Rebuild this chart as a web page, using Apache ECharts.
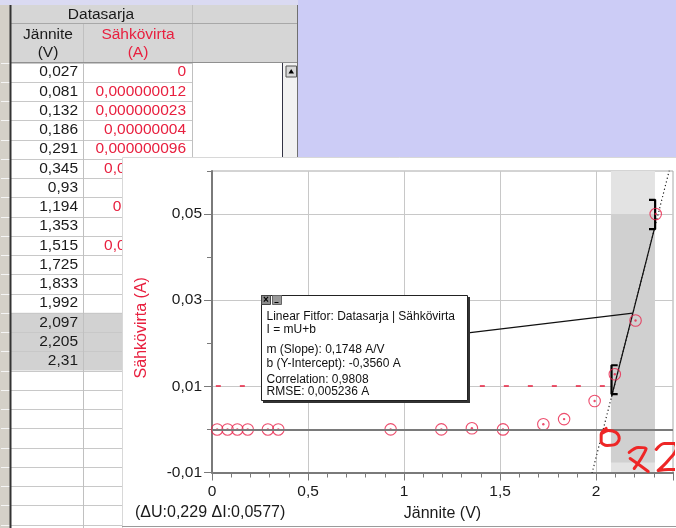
<!DOCTYPE html>
<html><head><meta charset="utf-8">
<script src="https://cdn.jsdelivr.net/npm/echarts@6/dist/echarts.min.js"></script>
<style>html,body{margin:0;padding:0;background:#fff}#c{width:676px;height:528px}</style>
</head><body><div id="c"></div>
<script>
// ---------- data ----------
const voltage = [0.027, 0.081, 0.132, 0.186, 0.291, 0.345, 0.93, 1.194, 1.353, 1.515, 1.725, 1.833, 1.992, 2.097, 2.205, 2.31];
const current = [0, 0.000000012, 0.000000023, 0.00000004, 0.000000096, 0.00000021, 0.00001, 0.0000048, 0.00027, 0.00000089, 0.0012, 0.0024, 0.0066, 0.0128, 0.0253, 0.05];
const selectedRows = [13, 14, 15];
const tableTitle = 'Datasarja';
const colHeaders = [['Jännite', '(V)'], ['Sähkövirta', '(A)']];
const fitSlope = 0.1748;
const fitIntercept = -0.3560;
const fitRange = [2.08, 2.307];
const dottedRange = [1.9, 2.5];
const selectionU = [2.077, 2.306];
const selectionI = [-0.0077, 0.05];
const xLabelValues = [0, 0.5, 1, 1.5, 2];
const yLabelValues = [-0.01, 0.01, 0.03, 0.05];
const leftBracket = [[2.112, 0.0149], [2.08, 0.0149], [2.08, 0.0082], [2.112, 0.0082]];
const rightBracket = [[2.275, 0.0533], [2.307, 0.0533], [2.307, 0.0465], [2.275, 0.0465]];
const calloutLine = [[1.333, 0.0224], [2.191, 0.0270]];
const redDash = [[0.02, 0.0101], [2.07, 0.0101]];
const scribble0 = [[2.052, 0.00023], [2.026, -0.00116], [2.026, -0.00279], [2.057, -0.00372], [2.099, -0.00349], [2.120, -0.00209], [2.104, -0.0007], [2.063, -0.00023], [2.031, -0.00093]];
const scribble7a = [[2.172, -0.00535], [2.219, -0.00419], [2.260, -0.00442], [2.234, -0.00674], [2.198, -0.00907]];
const scribble7b = [[2.177, -0.00674], [2.229, -0.00837], [2.271, -0.00977]];
const scribble2 = [[2.3125, -0.00465], [2.354, -0.00326], [2.406, -0.00326], [2.417, -0.00442], [2.375, -0.00721], [2.323, -0.00953], [2.375, -0.0093], [2.417, -0.0093]];
const fitText = ['Linear Fitfor: Datasarja | Sähkövirta', 'I = mU+b', 'm (Slope): 0,1748 A/V', 'b (Y-Intercept): -0,3560 A', 'Correlation: 0,9808', 'RMSE: 0,005236 A'];
const deltaText = '(ΔU:0,229 ΔI:0,0577)';
const xName = 'Jännite (V)';
const yName = 'Sähkövirta (A)';

// ---------- helpers ----------
const RED = '#e8203f';
const FONT = 'Liberation Sans, Arial, sans-serif';
const fmtNum = v => {
  if (v === 0) return '0';
  let s = v.toFixed(9).replace(/0+$/, '').replace(/\.$/, '');
  return s.replace('.', ',');
};
const fitAt = u => fitSlope * u + fitIntercept;
const pts = voltage.map((u, i) => [u, current[i]]);

// ---------- table (graphic) ----------
const G = [];
const ROW_TOP = 62.5, ROW_H = 19.25;
G.push({type: 'rect', z: -30, shape: {x: 298, y: 0, width: 378, height: 158}, style: {fill: '#ccccf6'}});
G.push({type: 'rect', z: -30, shape: {x: 0, y: 0, width: 298, height: 5}, style: {fill: '#dadaf2'}});
G.push({type: 'rect', z: -30, shape: {x: 0, y: 5, width: 11, height: 523}, style: {fill: '#d4d0c8'}});
G.push({type: 'rect', z: -30, shape: {x: 11, y: 5, width: 287, height: 57.5}, style: {fill: '#d6d6d6'}});
selectedRows.forEach(r => {
  G.push({type: 'rect', z: -29, shape: {x: 11, y: ROW_TOP + r * ROW_H, width: 181, height: ROW_H}, style: {fill: '#d2d2d2'}});
});
for (let i = 0; i <= 25; i++) {
  const y = Math.round(ROW_TOP + i * ROW_H) + 0.5;
  G.push({type: 'line', z: -28, shape: {x1: 11, y1: y, x2: 192, y2: y}, style: {stroke: '#c8c8c8', lineWidth: 1}});
  G.push({type: 'line', z: -28, shape: {x1: 1, y1: y, x2: 10, y2: y}, style: {stroke: '#f4f4f4', lineWidth: 1}});
}
G.push({type: 'line', z: -28, shape: {x1: 83.5, y1: 23.5, x2: 83.5, y2: 528}, style: {stroke: '#c0c0c0', lineWidth: 1}});
G.push({type: 'line', z: -28, shape: {x1: 192.5, y1: 5, x2: 192.5, y2: 528}, style: {stroke: '#c0c0c0', lineWidth: 1}});
G.push({type: 'line', z: -28, shape: {x1: 11, y1: 23.5, x2: 298, y2: 23.5}, style: {stroke: '#a8a8a8', lineWidth: 1}});
G.push({type: 'line', z: -28, shape: {x1: 11, y1: 62.5, x2: 298, y2: 62.5}, style: {stroke: '#909090', lineWidth: 1}});
G.push({type: 'line', z: -28, shape: {x1: 297.5, y1: 5, x2: 297.5, y2: 158}, style: {stroke: '#707070', lineWidth: 1}});
G.push({type: 'line', z: -28, shape: {x1: 10.5, y1: 5, x2: 10.5, y2: 528}, style: {stroke: '#333', lineWidth: 2}});
G.push({type: 'rect', z: -28, shape: {x: 282, y: 63, width: 15, height: 95}, style: {fill: '#f2f2f2'}});
G.push({type: 'line', z: -27, shape: {x1: 282.5, y1: 63, x2: 282.5, y2: 158}, style: {stroke: '#334', lineWidth: 1}});
G.push({type: 'rect', z: -27, shape: {x: 286, y: 66, width: 10.5, height: 11}, style: {fill: '#d8d8d8', stroke: '#555', lineWidth: 1}});
G.push({type: 'polygon', z: -26, shape: {points: [[291.2, 69], [288.5, 73.5], [294, 73.5]]}, style: {fill: '#000'}});
G.push({type: 'text', z: -26, style: {text: tableTitle, x: 101, y: 15, align: 'center', verticalAlign: 'middle', font: '15.5px ' + FONT, fill: '#1a1a1a'}});
colHeaders.forEach((h, c) => {
  const cx = c === 0 ? 48 : 138;
  const col = c === 0 ? '#1a1a1a' : RED;
  G.push({type: 'text', z: -26, style: {text: h[0], x: cx, y: 35, align: 'center', verticalAlign: 'middle', font: '15.5px ' + FONT, fill: col}});
  G.push({type: 'text', z: -26, style: {text: h[1], x: cx, y: 53, align: 'center', verticalAlign: 'middle', font: '15.5px ' + FONT, fill: col}});
});
voltage.forEach((u, i) => {
  const y = ROW_TOP + i * ROW_H + ROW_H / 2;
  G.push({type: 'text', z: -26, style: {text: String(u).replace('.', ','), x: 78, y: y, align: 'right', verticalAlign: 'middle', font: '15.5px ' + FONT, fill: '#1a1a1a'}});
  G.push({type: 'text', z: -26, style: {text: fmtNum(current[i]), x: 186, y: y, align: 'right', verticalAlign: 'middle', font: '15.5px ' + FONT, fill: RED}});
});
G.push({type: 'rect', z: -10, shape: {x: 122.5, y: 157.5, width: 560, height: 380}, style: {fill: '#fff', stroke: '#d8d8d8', lineWidth: 1}});
G.push({type: 'line', z: -9, shape: {x1: 122, y1: 526.5, x2: 676, y2: 526.5}, style: {stroke: '#9a9a9a', lineWidth: 1}});
G.push({type: 'text', z: 5, style: {text: deltaText, x: 135, y: 513, align: 'left', verticalAlign: 'middle', font: '16px ' + FONT, fill: '#1a1a1a'}});
G.push({type: 'rect', z: 100, shape: {x: 263, y: 297, width: 207, height: 106}, style: {fill: '#333'}});
G.push({type: 'rect', z: 101, shape: {x: 261.5, y: 295.5, width: 206, height: 105}, style: {fill: '#fff', stroke: '#222', lineWidth: 1}});
G.push({type: 'rect', z: 102, shape: {x: 261.5, y: 295.5, width: 9, height: 9}, style: {fill: '#8a8a8a', stroke: '#444', lineWidth: 1}});
G.push({type: 'text', z: 103, style: {text: '×', x: 266, y: 300.5, align: 'center', verticalAlign: 'middle', font: 'bold 10px ' + FONT, fill: '#000'}});
G.push({type: 'rect', z: 102, shape: {x: 272.5, y: 295.5, width: 9, height: 9}, style: {fill: '#9a9a9a', stroke: '#666', lineWidth: 1}});
G.push({type: 'line', z: 103, shape: {x1: 274.5, y1: 302.5, x2: 278.5, y2: 302.5}, style: {stroke: '#000', lineWidth: 1}});
const boxY = [317, 329.5, 350, 364, 380, 391.5];
fitText.forEach((t, i) => {
  G.push({type: 'text', z: 103, style: {text: t, x: 266.5, y: boxY[i], align: 'left', verticalAlign: 'middle', font: '12px ' + FONT, fill: '#111'}});
});

// ---------- chart ----------
const chart = echarts.init(document.getElementById('c'), null, {renderer: 'canvas'});
const axisLabelStyle = {fontFamily: FONT, fontSize: 15.5, color: '#1a1a1a'};
const isOnList = (v, list) => list.some(x => Math.abs(x - v) < 1e-9);
const option = {
  animation: false,
  backgroundColor: '#fff',
  grid: {left: 212, top: 171, width: 461, height: 301.5, show: true, borderColor: '#a8a8a8', borderWidth: 1, z: 1},
  xAxis: [
    {type: 'value', position: 'bottom', min: 0, max: 2.4, interval: 0.1, z: 1,
      axisLine: {show: false, onZero: false}, axisLabel: {show: false},
      axisTick: {length: 5, lineStyle: {color: '#7a7a7a', width: 1}},
      splitLine: {show: true, lineStyle: {color: ['#c8c8c8', 'rgba(0,0,0,0)', 'rgba(0,0,0,0)', 'rgba(0,0,0,0)', 'rgba(0,0,0,0)'], width: 1}}},
    {type: 'value', position: 'bottom', offset: 0, min: 0, max: 2.4, interval: 0.5, z: 1,
      axisLine: {show: true, onZero: false, lineStyle: {color: '#7a7a7a', width: 2}},
      axisTick: {length: 8, lineStyle: {color: '#7a7a7a', width: 1}},
      axisLabel: Object.assign({margin: 11, formatter: v => isOnList(v, xLabelValues) ? String(v).replace('.', ',') : ''}, axisLabelStyle),
      splitLine: {show: false},
      name: xName, nameLocation: 'middle', nameGap: 33,
      nameTextStyle: {fontFamily: FONT, fontSize: 16, color: '#1a1a1a'}}
  ],
  yAxis: [
    {type: 'value', position: 'left', min: -0.01, max: 0.06, interval: 0.01, z: 1,
      axisLine: {show: false, onZero: false}, axisLabel: {show: false},
      axisTick: {length: 5, lineStyle: {color: '#7a7a7a', width: 1}},
      splitLine: {show: true, lineStyle: {color: ['#c8c8c8', 'rgba(0,0,0,0)'], width: 1}}},
    {type: 'value', position: 'left', offset: 0, min: -0.01, max: 0.06, interval: 0.01, z: 1,
      axisLine: {show: true, onZero: false, lineStyle: {color: '#7a7a7a', width: 2}},
      axisTick: {length: 8, customValues: yLabelValues, lineStyle: {color: '#7a7a7a', width: 1}},
      axisLabel: Object.assign({margin: 10, customValues: yLabelValues,
        formatter: v => isOnList(v, yLabelValues) ? v.toFixed(2).replace('.', ',') : ''}, axisLabelStyle),
      splitLine: {show: false},
      name: yName, nameLocation: 'middle', nameGap: 62,
      nameTextStyle: {fontFamily: FONT, fontSize: 16, color: RED, padding: [0, 12, 0, 0]}}
  ],
  graphic: {elements: G},
  series: [
    {name: 'band', type: 'line', data: [], z: 0.5, silent: true,
      markArea: {silent: true, data: [
        [{xAxis: selectionU[0], yAxis: -0.01, itemStyle: {color: '#e3e3e3'}}, {xAxis: selectionU[1], yAxis: 0.06}],
        [{xAxis: selectionU[0], yAxis: selectionI[0], itemStyle: {color: '#d0d0d0'}}, {xAxis: selectionU[1], yAxis: selectionI[1]}]
      ]}},
    {name: 'zero', type: 'line', data: [], z: 1.5, silent: true,
      markLine: {silent: true, symbol: 'none', label: {show: false},
        lineStyle: {color: '#7a7a7a', width: 2, type: 'solid'}, data: [{yAxis: 0}]}},
    {name: 'redDash', type: 'line', data: redDash, symbol: 'none', z: 2,
      lineStyle: {color: RED, width: 1.6, type: [5, 19]}},
    {name: 'fitDotted', type: 'line', data: dottedRange.map(u => [u, fitAt(u)]), symbol: 'none', z: 2,
      lineStyle: {color: '#222', width: 1.2, type: [1.2, 2.6]}},
    {name: 'fit', type: 'line', data: fitRange.map(u => [u, fitAt(u)]), symbol: 'none', z: 3,
      lineStyle: {color: '#111', width: 1.2}},
    {name: 'callout', type: 'line', data: calloutLine, symbol: 'none', z: 3,
      lineStyle: {color: '#111', width: 1.2}},
    {name: 'bracketL', type: 'line', data: leftBracket, symbol: 'none', z: 3,
      lineStyle: {color: '#000', width: 2.2}},
    {name: 'bracketR', type: 'line', data: rightBracket, symbol: 'none', z: 3,
      lineStyle: {color: '#000', width: 2.2}},
    {name: 'points', type: 'scatter', data: pts, symbol: 'circle', symbolSize: 11.5, z: 4,
      itemStyle: {color: 'rgba(0,0,0,0)', borderColor: '#e8224a', borderWidth: 1.1}},
    {name: 'pointDots', type: 'scatter', data: pts, symbol: 'circle', symbolSize: 2.4, z: 4,
      itemStyle: {color: '#e8224a'}},
    ...[scribble0, scribble7a, scribble7b, scribble2].map((d, i) => ({
      name: 'scribble' + i, type: 'line', data: d, symbol: 'none', smooth: 0.35, clip: false, z: 5,
      lineStyle: {color: '#ee2626', width: 3, cap: 'round', join: 'round'}}))
  ]
};
chart.setOption(option);
</script></body></html>
